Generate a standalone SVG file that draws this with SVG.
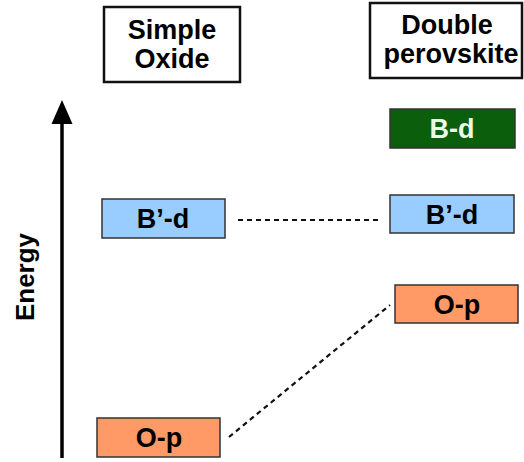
<svg xmlns="http://www.w3.org/2000/svg" width="524" height="462" viewBox="0 0 524 462">
<defs>
<style>
.t{font-family:"Liberation Sans",Arial,sans-serif;font-weight:bold;font-size:27px;text-anchor:middle;fill:#000}
.hdr{fill:#fff;stroke:#111;stroke-width:2.5}
.lvl{stroke:#333;stroke-width:1.5}
.blue{fill:#99ccff}
.orange{fill:#ff9966}
.green{fill:#0b5e0b}
.dash{stroke:#111;stroke-width:2.2;stroke-dasharray:5,4;fill:none}
</style>
</defs>
<rect width="524" height="462" fill="#fff"/>
<g id="axis">
<line x1="62" y1="458" x2="62" y2="122" stroke="#000" stroke-width="3.5"/>
<path d="M62,100 L51.5,124 L72.5,124 z" fill="#000"/>
<text class="t" transform="translate(34,277) rotate(-90)" style="font-size:26px">Energy</text>
</g>
<g id="hdr-simple">
<rect class="hdr" x="104" y="7" width="136" height="75"/>
<text class="t" x="172" y="39">Simple</text>
<text class="t" x="172" y="68">Oxide</text>
</g>
<g id="hdr-double">
<rect class="hdr" x="370" y="3" width="152" height="75"/>
<text class="t" x="447" y="34">Double</text>
<text class="t" x="451" y="63">perovskite</text>
</g>
<g id="so-bd">
<rect class="lvl blue" x="102" y="199" width="123" height="39"/>
<text class="t" x="163" y="228">B’-d</text>
</g>
<g id="so-op">
<rect class="lvl orange" x="97" y="418" width="123" height="39"/>
<text class="t" x="159" y="447">O-p</text>
</g>
<g id="dp-bd">
<rect class="lvl green" x="390" y="109" width="125" height="39"/>
<text class="t" x="452" y="138" style="fill:#eef8e6">B-d</text>
</g>
<g id="dp-bpd">
<rect class="lvl blue" x="390" y="195" width="124" height="38"/>
<text class="t" x="452" y="224">B’-d</text>
</g>
<g id="dp-op">
<rect class="lvl orange" x="395" y="285" width="123" height="38"/>
<text class="t" x="457" y="314">O-p</text>
</g>
<g id="connectors">
<line class="dash" x1="238" y1="220" x2="382" y2="220"/>
<line class="dash" x1="229" y1="437" x2="390" y2="305"/>
</g>
</svg>
